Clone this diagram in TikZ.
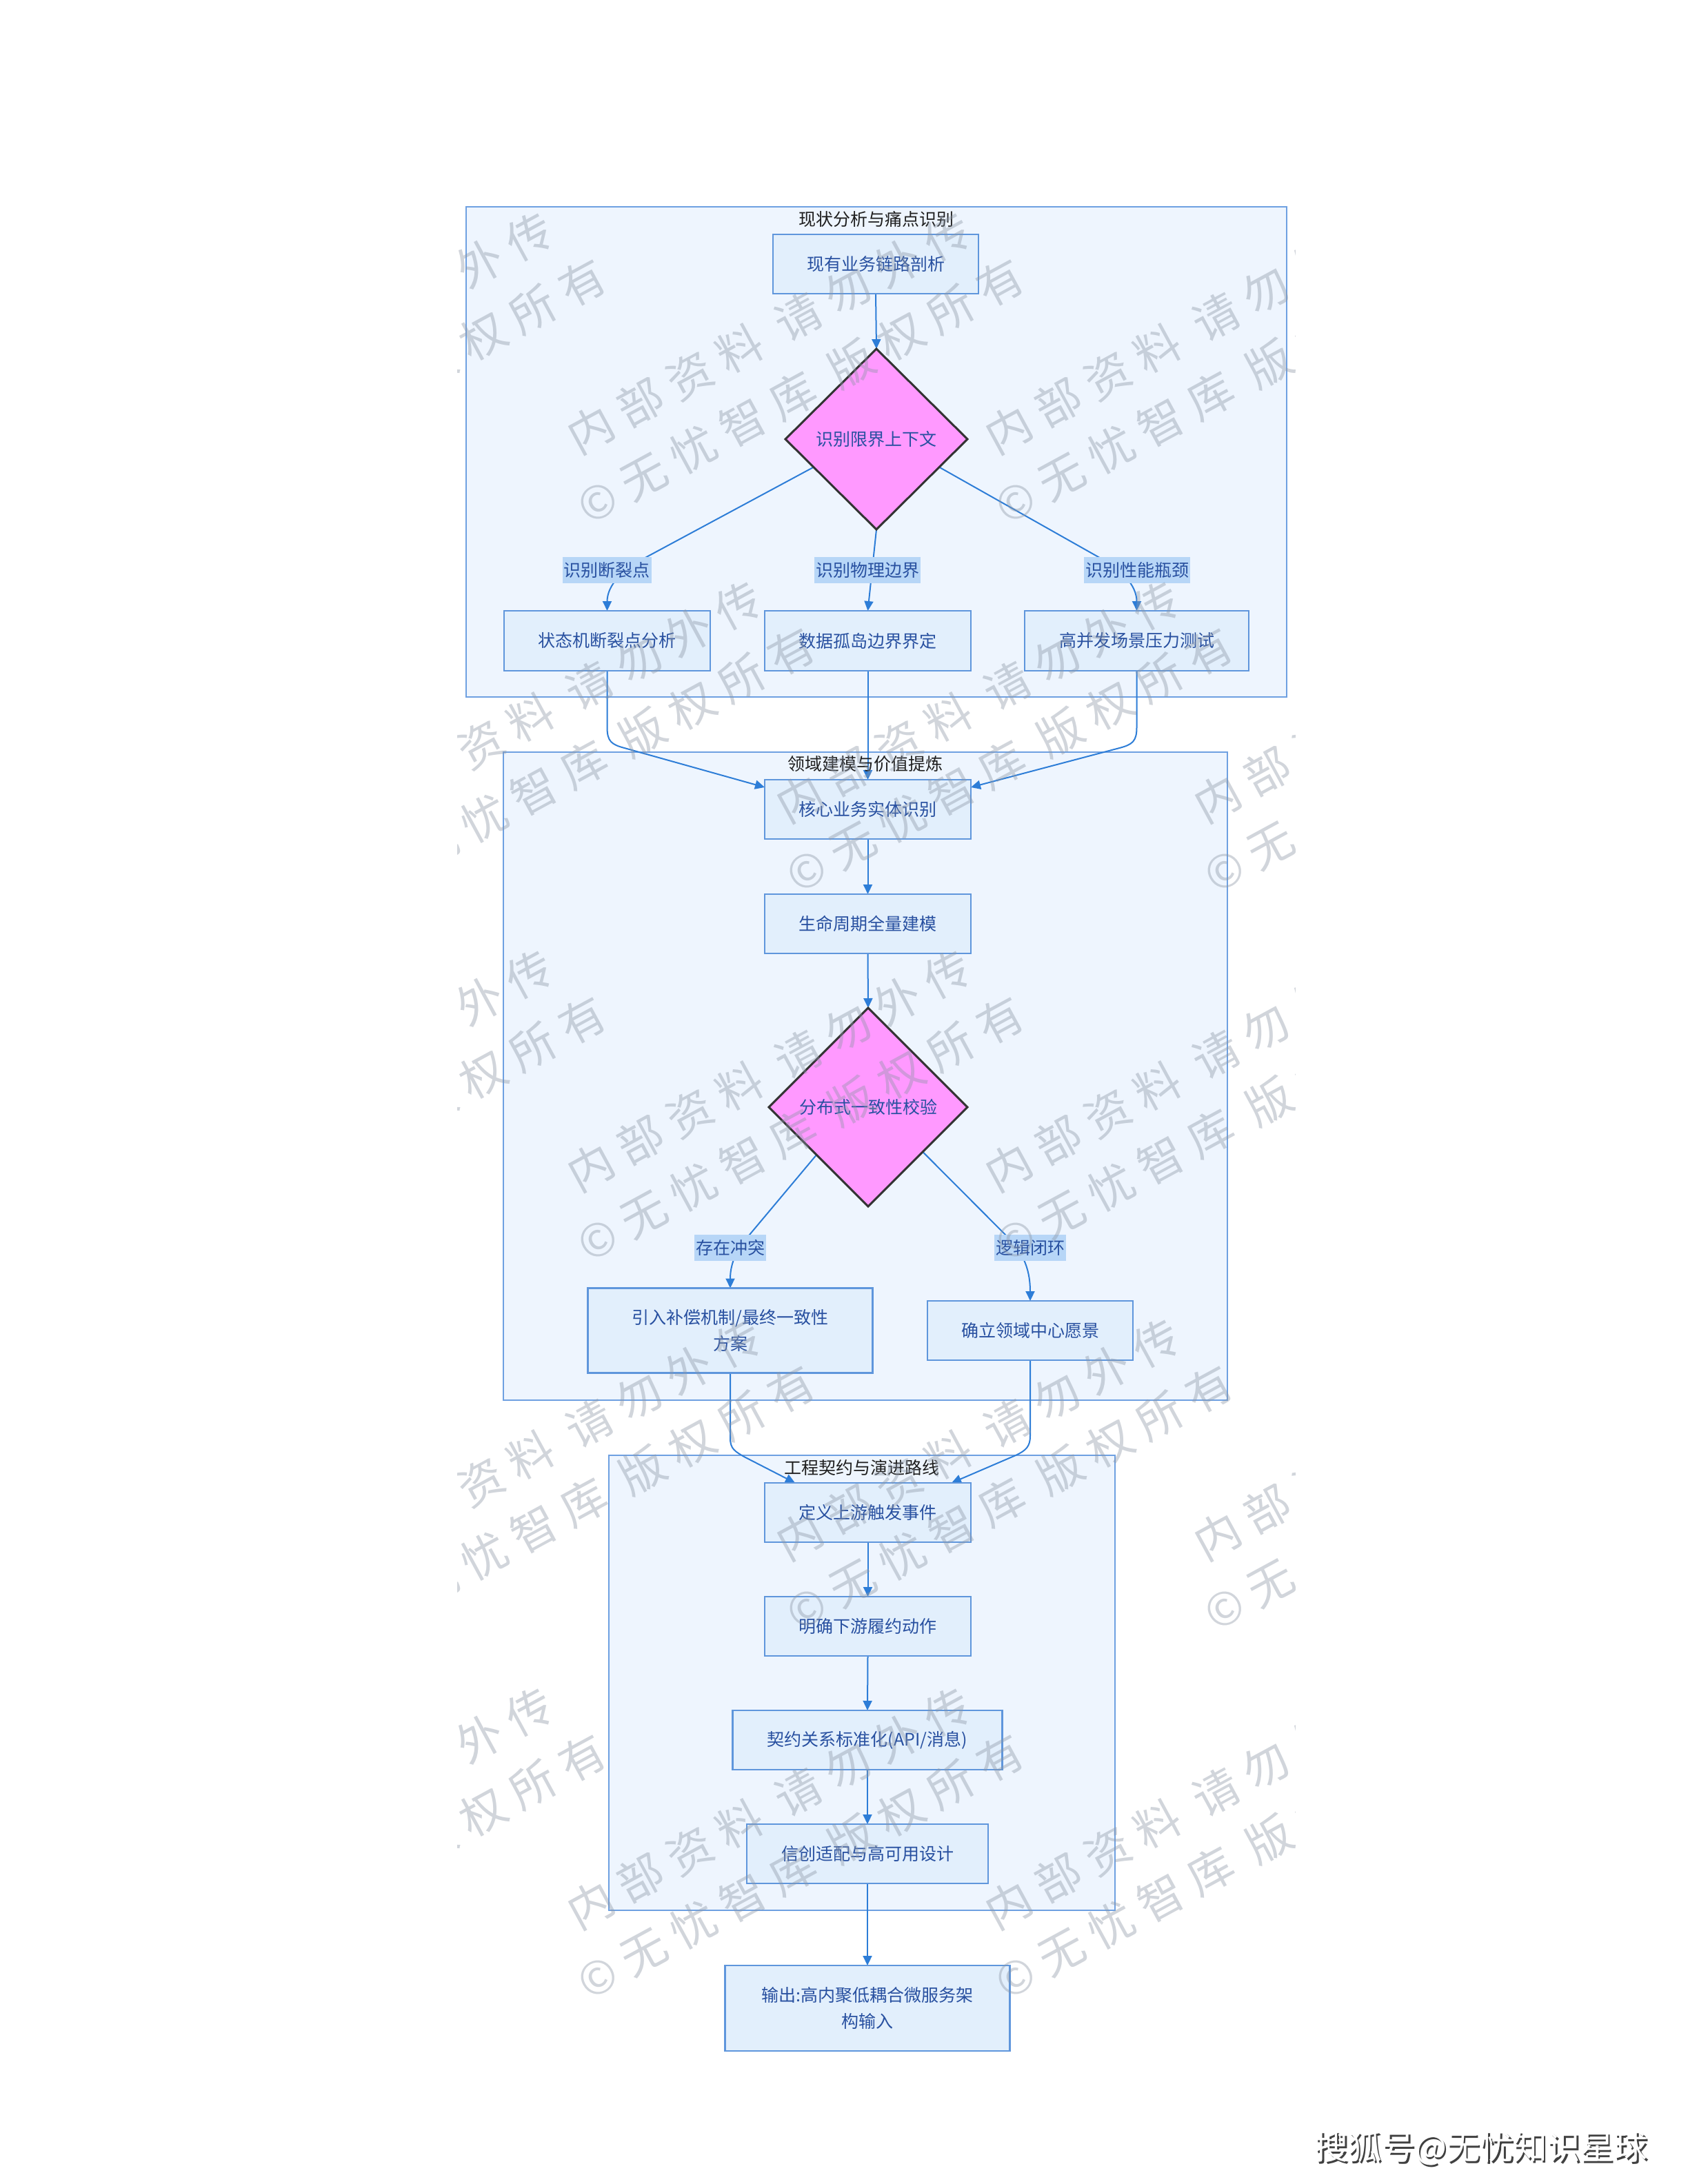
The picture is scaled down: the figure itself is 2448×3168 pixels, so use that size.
\documentclass[tikz,border=0pt]{standalone}
\usepackage{fontspec}
\setmainfont{Noto Sans CJK SC}
\newfontfamily\wmfont[LetterSpace=24]{Noto Sans CJK SC}
\usetikzlibrary{shapes.geometric,arrows.meta,calc}
\definecolor{clfill}{RGB}{238,245,254}
\definecolor{cldraw}{RGB}{110,160,225}
\definecolor{boxfill}{RGB}{226,239,252}
\definecolor{boxdraw}{RGB}{95,150,220}
\definecolor{boxtext}{RGB}{40,80,160}
\definecolor{edgec}{RGB}{45,125,215}
\definecolor{lblfill}{RGB}{183,214,247}
\definecolor{diafill}{RGB}{255,153,255}
\definecolor{diadraw}{RGB}{51,51,51}
\definecolor{wmc}{RGB}{140,150,165}
\pgfdeclarelayer{back}
\pgfdeclarelayer{edges}
\pgfdeclarelayer{front}
\pgfsetlayers{back,edges,main,front}
\begin{document}
\begin{tikzpicture}[x=1pt,y=1pt,
  every node/.style={outer sep=0pt},
  cluster/.style={draw=cldraw, fill=clfill, line width=2.5pt, inner sep=0pt},
  cltitle/.style={font=\fontsize{25}{30}\selectfont, text=black!88, inner sep=0pt},
  box/.style={draw=boxdraw, fill=boxfill, line width=2.5pt, text=boxtext, font=\fontsize{25}{38}\selectfont, align=center, inner sep=0pt, minimum height=86pt},
  decision/.style={diamond, draw=diadraw, fill=diafill, line width=3pt, text=boxtext, font=\fontsize{25}{30}\selectfont, inner sep=0pt},
  lbl/.style={fill=lblfill, text=boxtext, font=\fontsize{25}{30}\selectfont, inner xsep=2pt, inner ysep=0pt, minimum height=38pt},
  edge/.style={draw=edgec, line width=2pt, -{Triangle[length=14pt,width=13pt]}},
  wm/.style={font=\wmfont\fontsize{66}{96}\selectfont, text=wmc, text opacity=0.4, rotate=28.5, align=center, inner sep=0pt},
  sohu/.style={font=\fontsize{48.5}{58}\selectfont, inner sep=0pt},
]
\useasboundingbox (0,0) rectangle (2448,-3168);

% background and clusters
\begin{pgfonlayer}{back}
\fill[white] (0,0) rectangle (2448,-3168);
\node[cluster, minimum width=1190pt, minimum height=711pt] (c1) at (1270.8,-655.5) {};
\node[cluster, minimum width=1050pt, minimum height=940pt] (c2) at (1255,-1561) {};
\node[cluster, minimum width=734pt, minimum height=660pt] (c3) at (1250,-2441) {};
\end{pgfonlayer}
\node[cltitle] (t1) at ($(c1.north)+(0,-18)$) {现状分析与痛点识别};
\node[cltitle] (t2) at ($(c2.north)+(0,-17.5)$) {领域建模与价值提炼};
\node[cltitle] (t3) at ($(c3.north)+(0,-18)$) {工程契约与演进路线};

% cluster 1
\node[box, minimum width=298pt] (a1) at (1270,-383) {现有业务链路剖析};
\node[decision, minimum width=264pt, minimum height=262pt] (d1) at (1271,-637) {识别限界上下文};
\node[box, minimum width=299pt, minimum height=87pt] (s1) at (880.5,-929.5) {状态机断裂点分析};
\node[box, minimum width=299pt, minimum height=87pt] (s2) at (1258.5,-929.5) {数据孤岛边界界定};
\node[box, minimum width=325pt, minimum height=87pt] (s3) at (1648.5,-929.5) {高并发场景压力测试};
\node[lbl] (l1) at (880,-827) {识别断裂点};
\node[lbl] (l2) at (1258,-827) {识别物理边界};
\node[lbl] (l3) at (1649,-827) {识别性能瓶颈};

% cluster 2
\node[box, minimum width=299pt] (b1) at (1258.5,-1174) {核心业务实体识别};
\node[box, minimum width=299pt] (b2) at (1258.5,-1340) {生命周期全量建模};
\node[decision, minimum width=288pt, minimum height=288pt] (d2) at (1259,-1606) {分布式一致性校验};
\node[lbl] (l4) at (1059,-1810) {存在冲突};
\node[lbl] (l5) at (1494,-1810) {逻辑闭环};
\node[box, minimum width=413pt, minimum height=123pt] (b3) at (1059,-1930) {引入补偿机制/最终一致性\\方案};
\node[box, minimum width=298pt] (b4) at (1494,-1930) {确立领域中心愿景};

% cluster 3
\node[box, minimum width=299pt] (e1) at (1258.5,-2194) {定义上游触发事件};
\node[box, minimum width=299pt] (e2) at (1258.5,-2359) {明确下游履约动作};
\node[box, minimum width=391pt] (e3) at (1258,-2524) {契约关系标准化(API/消息)};
\node[box, minimum width=350pt] (e4) at (1258,-2689) {信创适配与高可用设计};
\node[box, minimum width=413pt, minimum height=124pt] (out) at (1258,-2913) {输出:高内聚低耦合微服务架\\构输入};

% connectors
\begin{pgfonlayer}{edges}
\draw[edge] (a1.south) -- (d1.north);
\coordinate (d1l) at ($(d1.west)!0.31!(d1.south)$);
\coordinate (d1r) at ($(d1.east)!0.31!(d1.south)$);
\draw[edge] (d1l) -- ($(l1.north east)+(-7,0)$) to[out=207,in=90] (s1.north);
\draw[edge] (d1.south) -- (s2.north);
\draw[edge] (d1r) -- ($(l3.north west)+(21,0)$) to[out=-28,in=90] (s3.north);

\coordinate (k1) at ($(s1.south)+(0,-82)$);
\coordinate (k3) at ($(s3.south)+(0,-82)$);
\draw[edge] (s1.south) -- (k1) .. controls ($(k1)+(0,-20)$) and ($(k1)+(6,-25)$) .. ($(k1)+(25,-30)$) -- ($(b1.north west)+(0,-11)$);
\draw[edge] (s2.south) -- (b1.north);
\draw[edge] (s3.south) -- (k3) .. controls ($(k3)+(0,-20)$) and ($(k3)+(-6,-25)$) .. ($(k3)+(-25,-30)$) -- ($(b1.north east)+(0,-11)$);

\draw[edge] (b1.south) -- (b2.north);
\draw[edge] (b2.south) -- (d2.north);
\coordinate (d2l) at ($(d2.west)!0.48!(d2.south)$);
\coordinate (d2r) at ($(d2.east)!0.45!(d2.south)$);
\draw[edge] (d2l) -- ($(l4.north east)+(-24,0)$) to[out=228,in=90] (b3.north);
\draw[edge] (d2r) -- ($(l5.north west)+(16,0)$) to[out=-43,in=90] (b4.north);

\coordinate (k4) at ($(b3.south)+(0,-95)$);
\coordinate (k5) at ($(b4.south)+(0,-110)$);
\draw[edge] (b3.south) -- (k4) .. controls ($(k4)+(0,-15)$) and ($(k4)+(7,-19)$) .. ($(k4)+(21,-27)$) -- ($(e1.north west)+(44,0)$);
\draw[edge] (b4.south) -- (k5) .. controls ($(k5)+(0,-15)$) and ($(k5)+(-6,-21)$) .. ($(k5)+(-21,-28)$) -- ($(e1.north east)+(-28,0)$);

\draw[edge] (e1.south) -- (e2.north);
\draw[edge] (e2.south) -- (e3.north);
\draw[edge] (e3.south) -- (e4.north);
\draw[edge] (e4.south) -- (out.north);
\end{pgfonlayer}

% watermark
\begin{pgfonlayer}{front}
\begin{scope}
\clip (663,-288) rectangle (1878,-2960);
\foreach \r in {1,3,5} {
  \foreach \cx in {532,1138,1744} {
    \node[wm] (wm-\r-\cx) at ({\cx},{-535*\r+10}) {内部资料 请勿外传\\©无忧智库 版权所有};
  }
}
\foreach \r in {2,4} {
  \foreach \cx in {835,1441,2047} {
    \node[wm] (wm-\r-\cx) at ({\cx},{-535*\r+10}) {内部资料 请勿外传\\©无忧智库 版权所有};
  }
}
\end{scope}
\node[sohu, text=black!75] (sohushadow) at (2150.5,-3119) {搜狐号@无忧知识星球};
\node[sohu, text=white] (sohutext) at (2148,-3116.5) {搜狐号@无忧知识星球};
\end{pgfonlayer}
\end{tikzpicture}
\end{document}
